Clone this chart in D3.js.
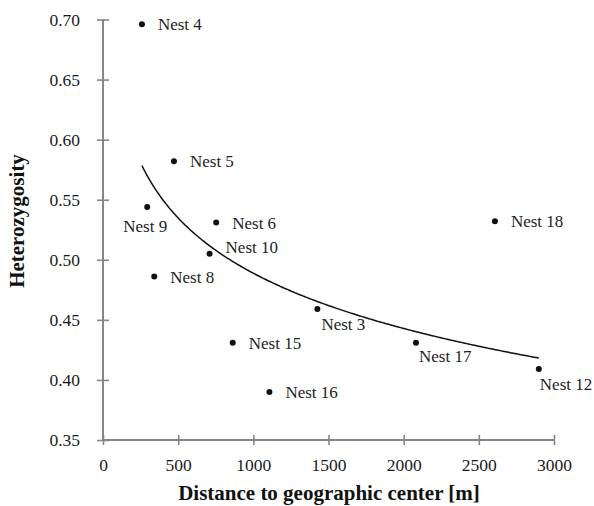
<!DOCTYPE html>
<html>
<head>
<meta charset="utf-8">
<script src="https://cdn.jsdelivr.net/npm/d3@7"></script>
<style>
  body { margin: 0; background: #fff; }
  text { font-family: "Liberation Serif", "Times New Roman", serif; }
</style>
</head>
<body>
<svg id="chart" width="594" height="506"></svg>
<script>
// Heterozygosity vs distance to geographic center

const nests = ['Nest 4', 'Nest 5', 'Nest 9', 'Nest 6', 'Nest 10', 'Nest 8',
  'Nest 15', 'Nest 16', 'Nest 3', 'Nest 17', 'Nest 12', 'Nest 18']
const distance = [259, 472, 294, 753, 709, 341, 863, 1107, 1426, 2082, 2899, 2607]
const heterozygosity = [0.696, 0.582, 0.544, 0.531, 0.505, 0.486, 0.431, 0.390,
  0.459, 0.431, 0.409, 0.532]
const xTicks = [0, 500, 1000, 1500, 2000, 2500, 3000]
const yTicks = [0.35, 0.40, 0.45, 0.50, 0.55, 0.60, 0.65, 0.70]

// where each label sits relative to its dot
const labelPos = {
  'Nest 9': { dx: -2, dy: 25, anchor: 'middle' },
  'Nest 10': { dx: 16, dy: -1, anchor: 'start' },
  'Nest 3': { dx: 4, dy: 21, anchor: 'start' },
  'Nest 17': { dx: 3, dy: 19, anchor: 'start' },
  'Nest 12': { dx: 1, dy: 21, anchor: 'start' }
}
const defaultPos = { dx: 16, dy: 6, anchor: 'start' }

const svg = d3.select('#chart')
const axisColor = '#868686'
const serif = '"Liberation Serif", "Times New Roman", serif'

const x = d3.scaleLinear().domain([0, 3000]).range([103, 554])
const y = d3.scaleLinear().domain([0.35, 0.70]).range([440, 19.5])

// Axes
const xAxis = svg.append('g')
  .attr('transform', 'translate(0,' + y(0.35) + ')')
  .call(d3.axisBottom(x).tickValues(xTicks).tickFormat(d3.format('d')).tickSize(5).tickPadding(14))

const yAxis = svg.append('g')
  .attr('transform', 'translate(' + x(0) + ',0)')
  .call(d3.axisLeft(y).tickValues(yTicks).tickFormat(d3.format('.2f')).tickSize(6).tickPadding(17))

for (const ax of [xAxis, yAxis]) {
  ax.attr('font-family', serif).attr('font-size', 17.5)
  ax.select('.domain').attr('stroke', axisColor).attr('stroke-width', 2)
  ax.selectAll('.tick text')
    .attr('fill', '#1a1a1a')
    .style('font-size', '17.5px')
    .style('font-family', serif)
  ax.selectAll('.tick line').attr('stroke', axisColor).attr('stroke-width', 1.6)
}
// ticks cross the axis line
xAxis.selectAll('.tick line').attr('y1', -5).attr('y2', 5)
yAxis.selectAll('.tick line').attr('x1', -6).attr('x2', 6)
xAxis.select('.domain').attr('d', 'M' + x(0) + ',0H' + x(3000))
yAxis.select('.domain').attr('d', 'M0,' + y(0.35) + 'V' + y(0.70))

// Logarithmic trend line, least squares fit of y on ln(x)
const lx = distance.map(Math.log)
const mx = d3.mean(lx)
const my = d3.mean(heterozygosity)
const b = d3.sum(lx, (v, i) => (v - mx) * (heterozygosity[i] - my)) / d3.sum(lx, v => (v - mx) * (v - mx))
const a = my - b * mx

const xs = d3.range(d3.min(distance), d3.max(distance) + 1, 10)
const line = d3.line()
  .x(d => x(d))
  .y(d => y(a + b * Math.log(d)))

svg.append('path')
  .datum(xs)
  .attr('d', line)
  .attr('fill', 'none')
  .attr('stroke', '#111')
  .attr('stroke-width', 1.5)

// Points and labels
const pts = svg.append('g')
  .selectAll('g')
  .data(nests)
  .join('g')
  .attr('transform', (d, i) => 'translate(' + x(distance[i]) + ',' + y(heterozygosity[i]) + ')')

pts.append('circle')
  .attr('r', 3)
  .attr('fill', '#111')

pts.append('text')
  .attr('x', d => (labelPos[d] || defaultPos).dx)
  .attr('y', d => (labelPos[d] || defaultPos).dy)
  .attr('text-anchor', d => (labelPos[d] || defaultPos).anchor)
  .attr('fill', '#222')
  .style('font-size', '17px')
  .text(d => d)

// Axis titles
svg.append('text')
  .attr('x', 329)
  .attr('y', 500)
  .attr('text-anchor', 'middle')
  .style('font-size', '21px')
  .style('font-weight', 'bold')
  .attr('fill', '#111')
  .text('Distance to geographic center [m]')

svg.append('text')
  .attr('transform', 'translate(24,221) rotate(-90)')
  .attr('text-anchor', 'middle')
  .style('font-size', '21px')
  .style('font-weight', 'bold')
  .attr('fill', '#111')
  .text('Heterozygosity')
</script>
</body>
</html>
